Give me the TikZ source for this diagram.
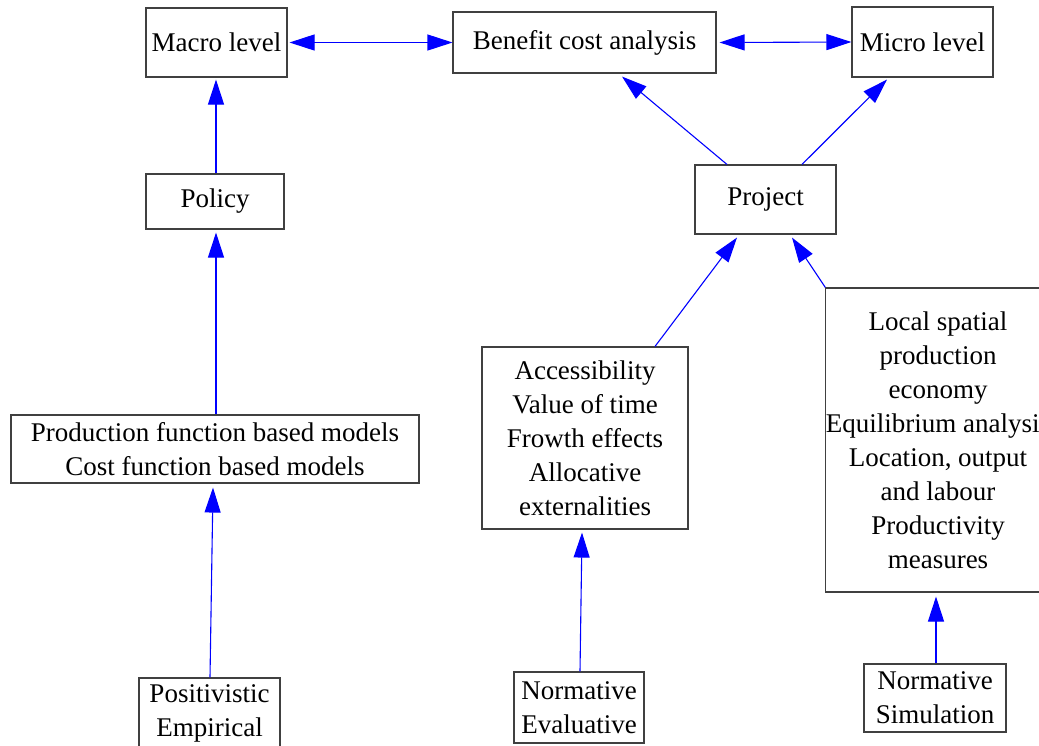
\documentclass[tikz,border=0pt]{standalone}
\usepackage{fontspec}
\setmainfont{Liberation Serif}
\usetikzlibrary{arrows.meta,calc}
\begin{document}
\begin{tikzpicture}[x=1pt,y=-1pt,
  box/.style={draw=black!75,line width=1.1pt,fill=white,inner sep=0pt,align=center,
    font=\fontsize{27}{34}\selectfont},
  arr/.style={draw=blue,line width=1.1pt,-{Triangle[length=25pt,width=16pt]}},
  darr/.style={draw=blue,line width=1.1pt,{Triangle[length=25pt,width=16pt]}-{Triangle[length=25pt,width=16pt]}}]
\useasboundingbox (0,0) rectangle (1039,745);
\node[box,minimum width=141pt,minimum height=69pt] (macro) at (216.5,42.5) {Macro level};
\node[box,minimum width=263pt,minimum height=61pt] (bca) at (584.5,42.5) {Benefit cost analysis};
\node[box,minimum width=141pt,minimum height=70pt] (micro) at (922.5,42) {Micro level};
\node[box,minimum width=138pt,minimum height=55pt] (policy) at (215,201.5) {Policy};
\node[box,minimum width=141pt,minimum height=69pt] (proj) at (765.5,199.5) {Project};
\node[box,minimum width=408pt,minimum height=68pt] (prod) at (215,449) {Production function based models\\Cost function based models};
\node[box,minimum width=206pt,minimum height=182pt] (acc) at (585,438) {Accessibility\\Value of time\\Frowth effects\\Allocative\\externalities};
\node[box,minimum width=220pt,minimum height=304pt] (local) at (938,440) {Local spatial\\production\\economy\\Equilibrium analysis\\Location, output\\and labour\\Productivity\\measures};
\node[box,minimum width=141pt,minimum height=71pt] (pos) at (209.5,713.5) {Positivistic\\Empirical};
\node[box,minimum width=130pt,minimum height=71pt] (ne) at (579,707.5) {Normative\\Evaluative};
\node[box,minimum width=142pt,minimum height=68pt] (ns) at (935,698) {Normative\\Simulation};

\draw[darr] ($(macro.east)+(2,0)$) -- (bca.west);
\draw[darr] ($(bca.east)+(3,0)$) -- (micro.west);
\draw[arr] ($(policy.north)+(1,0)$) -- ($(macro.south)+(-0.5,2)$);
\draw[arr] ($(prod.north)+(1,0)$) -- ($(policy.south)+(1,3)$);
\draw[arr] ($(pos.north)+(0.5,0)$) -- ($(prod.south)+(-2,4)$);
\draw[arr] ($(proj.north)+(-38.5,0)$) -- ($(bca.south)+(37.5,3)$);
\draw[arr] ($(proj.north)+(36.5,0)$) -- ($(micro.south)+(-35.5,2)$);
\draw[arr] ($(acc.north)+(70,0)$) -- ($(proj.south)+(-28.5,3)$);
\draw[arr] (local.north west) -- ($(proj.south)+(26.5,3)$);
\draw[arr] ($(ne.north)+(1,0)$) -- ($(acc.south)+(-3,3)$);
\draw[arr] ($(ns.north)+(1,0)$) -- ($(local.south)+(-2,4)$);
\end{tikzpicture}
\end{document}
